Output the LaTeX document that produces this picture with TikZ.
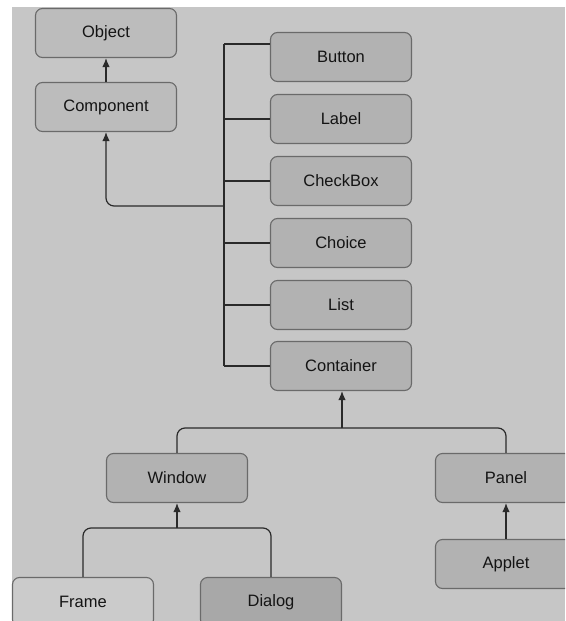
\documentclass[tikz,border=0pt]{standalone}
\usepackage{fontspec}
\setmainfont{Liberation Sans}
\usetikzlibrary{arrows.meta}
\definecolor{bggray}{HTML}{C6C6C6}
\definecolor{edgegray}{HTML}{6A6A6A}
\definecolor{lightbox}{HTML}{BCBCBC}
\definecolor{midbox}{HTML}{B2B2B2}
\definecolor{darkbox}{HTML}{A8A8A8}
\definecolor{palebox}{HTML}{CBCBCB}
\definecolor{linegray}{HTML}{2A2A2A}
\tikzset{
  cls/.style={draw=edgegray, line width=1.1pt, rounded corners=7pt,
    minimum width=141pt, minimum height=49pt, inner sep=0pt,
    font=\fontsize{16.5}{19}\selectfont, text=black!92},
  wire/.style={draw=linegray, line width=1.2pt},
  inh/.style={wire, -{Latex[length=9pt,width=7.5pt]}},
}
\begin{document}
\begin{tikzpicture}[x=1pt,y=-1pt]
  \useasboundingbox (0,0) rectangle (565,621);
  \clip (0,0) rectangle (565,621);
  \fill[white] (0,0) rectangle (565,621);
  \fill[bggray] (12,7) rectangle (565,621);

  % class boxes
  \node[cls, fill=lightbox] (object)    at (106,33)  {Object};
  \node[cls, fill=lightbox] (component) at (106,107) {Component};
  \node[cls, fill=midbox]   (button)    at (341,57)  {Button};
  \node[cls, fill=midbox]   (label)     at (341,119) {Label};
  \node[cls, fill=midbox]   (checkbox)  at (341,181) {CheckBox};
  \node[cls, fill=midbox]   (choice)    at (341,243) {Choice};
  \node[cls, fill=midbox]   (list)      at (341,305) {List};
  \node[cls, fill=midbox]   (container) at (341,366) {Container};
  \node[cls, fill=midbox]   (window)    at (177,478) {Window};
  \node[cls, fill=midbox]   (panel)     at (506,478) {Panel};
  \node[cls, fill=midbox]   (applet)    at (506,564) {Applet};
  \node[cls, fill=palebox]  (frame)     at (83,602)  {Frame};
  \node[cls, fill=darkbox]  (dialog)    at (271,602) {Dialog};

  % Component subclasses hang off a shared trunk
  \coordinate (trunktop) at (224,44);
  \coordinate (trunkjoin) at (224,206);
  \draw[wire] (trunktop) -- (trunktop -| button.west);
  \draw[wire] (trunktop) -- (trunktop |- container.west);
  \draw[wire] (trunktop |- label.west) -- (label.west);
  \draw[wire] (trunktop |- checkbox.west) -- (checkbox.west);
  \draw[wire] (trunktop |- choice.west) -- (choice.west);
  \draw[wire] (trunktop |- list.west) -- (list.west);
  \draw[wire] (trunktop |- container.west) -- (container.west);
  \draw[inh, rounded corners=8pt] (trunkjoin) -| (component.south);

  % Component extends Object
  \draw[inh] (component.north) -- (object.south);

  % Container subclasses
  \coordinate (cjoin) at (342,428);
  \draw[wire, rounded corners=8pt] (window.north) |- (cjoin) -| (panel.north);
  \draw[inh] (cjoin) -- (cjoin |- container.south);

  % Window subclasses
  \coordinate (wjoin) at (177,528);
  \draw[wire, rounded corners=8pt] (frame.north) |- (wjoin) -| (dialog.north);
  \draw[inh] (wjoin) -- (window.south);

  % Applet extends Panel
  \draw[inh] (applet.north) -- (panel.south);
\end{tikzpicture}
\end{document}
